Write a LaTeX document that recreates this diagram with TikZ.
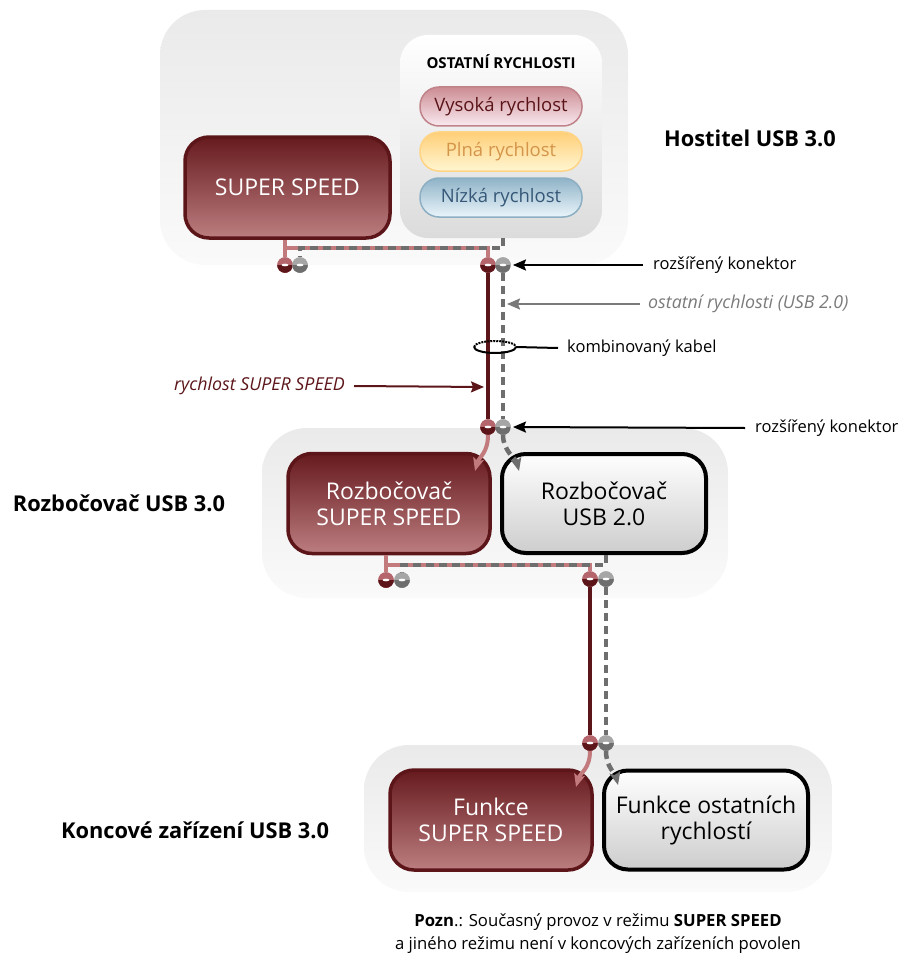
\documentclass[tikz,border=0pt]{standalone}
\usepackage{fontspec}
\setmainfont{Open Sans}
\usetikzlibrary{arrows.meta,calc}

\definecolor{ssdark}{HTML}{5C1519}
\definecolor{sstop}{HTML}{661A1E}
\definecolor{ssbot}{HTML}{BC7E80}
\definecolor{roseline}{HTML}{C27A7C}
\definecolor{plugrose}{HTML}{B4666C}
\definecolor{cablegray}{HTML}{6E6E6E}
\definecolor{pluglight}{HTML}{A6A6A6}
\definecolor{zonetop}{HTML}{EAEAEA}
\definecolor{zonebot}{HTML}{FAFAFA}
\definecolor{oldbot}{HTML}{CDCDCD}
\definecolor{hiborder}{HTML}{C0838A}
\definecolor{hitop}{HTML}{CC8C93}
\definecolor{hibot}{HTML}{F9EAF0}
\definecolor{hitext}{HTML}{5A1418}
\definecolor{fsborder}{HTML}{FFD484}
\definecolor{fstop}{HTML}{FFCF78}
\definecolor{fsbot}{HTML}{FFF6D2}
\definecolor{fstext}{HTML}{D4954A}
\definecolor{lsborder}{HTML}{8CAFC3}
\definecolor{lstop}{HTML}{8FB3C7}
\definecolor{lsbot}{HTML}{EAF5FB}
\definecolor{lstext}{HTML}{365878}
\definecolor{notegray}{HTML}{7A7A7A}

\tikzset{
  zone/.style={rounded corners=45pt, top color=zonetop, bottom color=zonebot,
    draw=none, inner sep=0},
  ssbox/.style={draw=ssdark, line width=3.5pt, rounded corners=24pt,
    top color=sstop, bottom color=ssbot, text=white, align=center,
    font=\fontsize{23}{26}\selectfont, inner sep=0,
    minimum width=202pt, minimum height=100pt},
  oldbox/.style={draw=black, line width=4pt, rounded corners=24pt,
    top color=white, bottom color=oldbot, text=black, align=center,
    font=\fontsize{23}{26}\selectfont, inner sep=0,
    minimum width=204pt, minimum height=99pt},
  pill/.style={rounded corners=19pt, line width=1.5pt, inner sep=0,
    minimum width=162pt, minimum height=39pt, font=\fontsize{18.5}{21}\selectfont},
  plugbase/.style={circle, inner sep=0, minimum size=15.5pt},
  plugR/.style={plugbase, fill=plugrose, path picture={
      \fill[ssdark] (path picture bounding box.west) rectangle (path picture bounding box.south east);
      \fill[white] (path picture bounding box.center) ellipse [x radius=3.5pt, y radius=1.3pt];}},
  plugG/.style={plugbase, fill=pluglight, path picture={
      \fill[cablegray] (path picture bounding box.west) rectangle (path picture bounding box.south east);
      \fill[white] (path picture bounding box.center) ellipse [x radius=3.5pt, y radius=1.3pt];}},
  roseln/.style={draw=roseline, line width=4pt},
  ssln/.style={draw=ssdark, line width=4pt},
  grayln/.style={draw=cablegray, line width=4.5pt, dash pattern=on 8pt off 5pt},
  rosearr/.style={roseln, -{Stealth[length=13pt, width=11pt, inset=3pt]}},
  grayarr/.style={grayln, -{Stealth[length=13pt, width=11pt, inset=3pt, sep=0pt]}},
  lbl/.style={inner sep=0, anchor=west, font=\fontsize{16.5}{19}\selectfont},
  itlbl/.style={inner sep=0, anchor=west, font=\itshape\fontsize{17.8}{20}\selectfont},
  lblarr/.style={line width=2pt, -{Stealth[length=13pt, width=11pt, inset=2pt]}},
  title/.style={inner sep=0, font=\bfseries\fontsize{21.8}{25}\selectfont}
}

\begin{document}
\begin{tikzpicture}[x=1pt, y=-1pt]
\useasboundingbox (0,0) rectangle (899,955);

% ---------- USB 3.0 host ----------
\node[zone, minimum width=468pt, minimum height=255pt] (host) at (394,137.5) {};
\node[rounded corners=28pt, top color=white, bottom color=black!14, inner sep=0,
      minimum width=202pt, minimum height=203pt] (other) at (501,136.5) {};
\node[inner sep=0, font=\bfseries\fontsize{15}{17}\selectfont] (othert) at (501,62) {OSTATNÍ RYCHLOSTI};
\node[pill, draw=hiborder, top color=hitop, bottom color=hibot, text=hitext] (hs) at (501,106.5) {Vysoká rychlost};
\node[pill, draw=fsborder, top color=fstop, bottom color=fsbot, text=fstext] (fs) at (501,151.5) {Plná rychlost};
\node[pill, draw=lsborder, top color=lstop, bottom color=lsbot, text=lstext] (ls) at (501,197.5) {Nízká rychlost};
\node[ssbox, minimum width=205pt, minimum height=101pt] (hostss) at (287.5,187.5) {SUPER SPEED};
\node[title] (hostt) at (750,138) {Hostitel USB 3.0};

% host connectors
\node[plugR] (hA) at (285,265) {};
\node[plugG] (hB) at (300,265) {};
\node[plugR] (hC) at (488,265) {};
\node[plugG] (hD) at (503,265) {};

% ---------- USB 3.0 hub ----------
\node[zone, minimum width=466pt, minimum height=170pt] (hub) at (495,513) {};
\node[ssbox] (hubss) at (389,503.5) {Rozbočovač\\SUPER SPEED};
\node[oldbox] (hubold) at (604,503.5) {Rozbočovač\\USB 2.0};
\node[title] (hubt) at (119,503) {Rozbočovač USB 3.0};

\node[plugR] (uC) at (488,427) {};
\node[plugG] (uD) at (503,427) {};
\node[plugR] (uA) at (386,580) {};
\node[plugG] (uB) at (402,580) {};
\node[plugR] (uE) at (590,579) {};
\node[plugG] (uF) at (606,579) {};

% ---------- USB 3.0 device ----------
\node[zone, minimum width=468pt, minimum height=147pt] (dev) at (598,818.5) {};
\node[ssbox] (devss) at (491,820) {Funkce\\SUPER SPEED};
\node[oldbox] (devold) at (706,820) {Funkce ostatních\\rychlostí};
\node[title] (devt) at (195,830) {Koncové zařízení USB 3.0};

\node[plugR] (dC) at (590,743) {};
\node[plugG] (dD) at (606,743) {};

% ---------- wiring inside the host ----------
\draw[roseln] (hostss.south -| hA) -- (hA.north);
\draw[roseln] (285,248) -- (488,248) -- (hC.north);
\draw[grayln] (other.south -| hD) -- (503,248) -- (300,248) -- (hB.north);

% cable host -> hub
\draw[ssln] (hC.south) -- (uC.north);
\draw[grayln] (hD.south) -- (uD.north);

% into the hub
\draw[rosearr] (uC.south) .. controls +(0,18) and +(4,-14) .. (475,471);
\draw[grayarr] (uD.south) .. controls +(0,16) and +(-3,-12) .. (519,471);

% wiring inside the hub
\draw[roseln] (hubss.south -| uA) -- (uA.north);
\draw[roseln] (386,565) -- (590,565) -- (uE.north);
\draw[grayln] (hubold.south -| uF) -- (606,565) -- (402,565) -- (uB.north);

% cable hub -> device
\draw[ssln] (uE.south) -- (dC.north);
\draw[grayln] (uF.south) -- (dD.north);

% into the device
\draw[rosearr] (dC.south) .. controls +(0,18) and +(4,-14) .. (576,787);
\draw[grayarr] (dD.south) .. controls +(0,16) and +(-3,-12) .. (618,785);

% re-draw connectors on top of the wires
\foreach \p in {hA,hC,uC,uA,uE,dC}{\node[plugR] at (\p) {};}
\foreach \p in {hB,hD,uD,uB,uF,dD}{\node[plugG] at (\p) {};}

% ---------- callouts ----------
\node[lbl] (lk1) at (653,265) {rozšířený konektor};
\draw[lblarr] ([xshift=-10pt]lk1.west) -- ([xshift=2pt]hD.east);

\coordinate (usb2pt) at (507,304);
\node[itlbl, text=notegray] (lk2) at (648,304) {ostatní rychlosti (USB 2.0)};
\draw[lblarr, draw=notegray, color=notegray] ([xshift=-8pt]lk2.west) -- (usb2pt);

\draw[line width=2pt, densely dotted] (474,347) arc[start angle=180, end angle=360, x radius=21, y radius=6];
\draw[line width=2pt] (474,347) arc[start angle=180, end angle=0, x radius=21, y radius=6];
\coordinate (ringE) at (516,347);
\node[lbl] (lk3) at (567,348) {kombinovaný kabel};
\draw[line width=2pt] (ringE) -- ([xshift=-9pt]lk3.west);

\coordinate (sspt) at (484,387);
\node[itlbl, anchor=east, text=ssdark] (lk4) at (345,386) {rychlost SUPER SPEED};
\draw[lblarr, draw=ssdark, color=ssdark] ([xshift=9pt]lk4.east) -- (sspt);

\node[lbl] (lk5) at (755,428) {rozšířený konektor};
\draw[lblarr] ([xshift=-10pt]lk5.west) -- ([xshift=2pt]uD.east);

% ---------- note ----------
\node[inner sep=0, align=center, font=\fontsize{16.7}{23}\selectfont] (note) at (598,934)
  {\textbf{Pozn}.: Současný provoz v režimu \textbf{SUPER SPEED}\\a jiného režimu není v koncových zařízeních povolen};
\end{tikzpicture}
\end{document}
